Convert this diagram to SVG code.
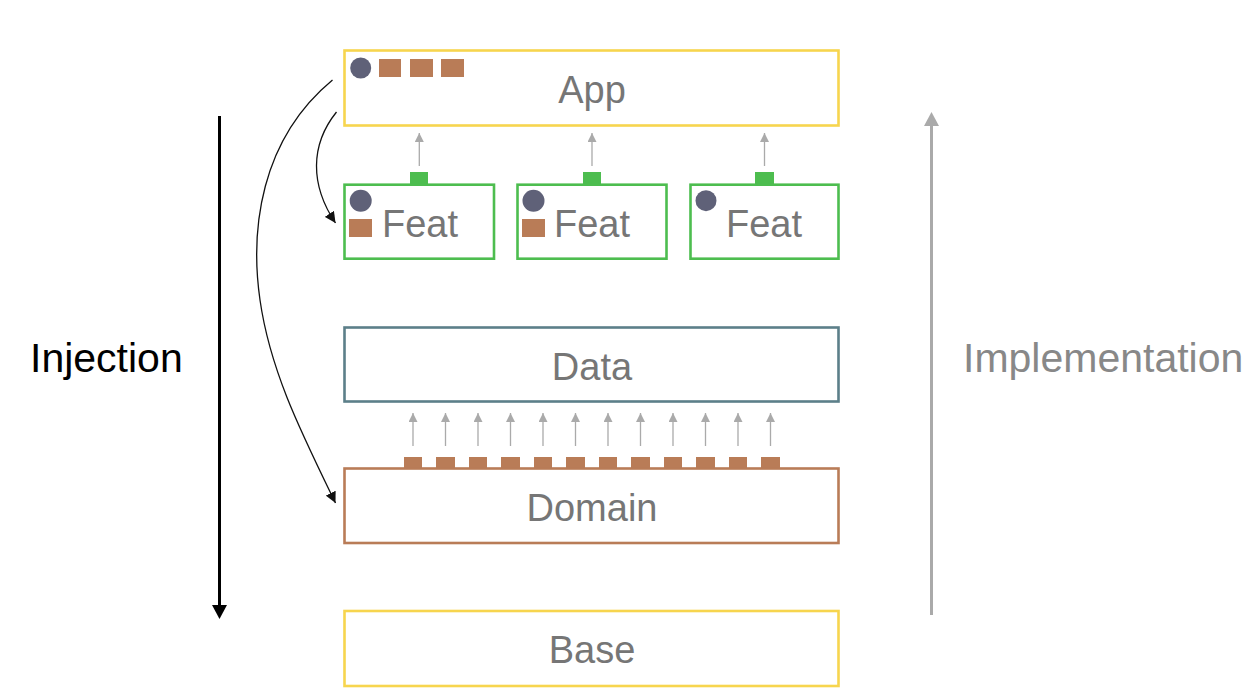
<svg xmlns="http://www.w3.org/2000/svg" width="1258" height="698" viewBox="0 0 1258 698">
  <defs>
    <style>
      .box { fill: #fff; stroke-width: 2.6; }
      .yellow { stroke: #F7D54E; }
      .green { stroke: #4DBD4F; }
      .teal { stroke: #5C7F89; }
      .brown { stroke: #B97C57; }
      .label { font-family: "Helvetica Neue", "Liberation Sans", Arial, sans-serif; font-size: 38px; fill: #767676; text-anchor: middle; }
      .side { font-family: "Helvetica Neue", "Liberation Sans", Arial, sans-serif; font-size: 41px; }
      .dot { fill: #5F6178; }
      .tab { fill: #B97C57; }
      .gtab { fill: #4DBD4F; }
      .thin { stroke: #AAAAAA; stroke-width: 1.3; fill: none; marker-end: url(#grayHead); }
      .curve { stroke: #111; stroke-width: 1.3; fill: none; marker-end: url(#blackHead); }
    </style>
    <marker id="grayHead" viewBox="0 0 10 10" refX="10" refY="5" markerWidth="9" markerHeight="9" markerUnits="userSpaceOnUse" orient="auto">
      <path d="M0,0 L10,5 L0,10 Z" fill="#AAAAAA"/>
    </marker>
    <marker id="blackHead" viewBox="0 0 10 10" refX="10" refY="5" markerWidth="11" markerHeight="11" markerUnits="userSpaceOnUse" orient="auto">
      <path d="M0,0 L10,5 L0,10 Z" fill="#111"/>
    </marker>
  </defs>

  <rect width="1258" height="698" fill="#fff"/>

  <!-- App layer -->
  <g id="app">
    <rect class="box yellow" x="344.5" y="50.5" width="494" height="75"/>
    <circle class="dot" cx="360.7" cy="68" r="10.5"/>
    <rect class="tab" x="379" y="59" width="22" height="18"/>
    <rect class="tab" x="410" y="59" width="23" height="18"/>
    <rect class="tab" x="441" y="59" width="23" height="18"/>
    <text class="label" x="592" y="103">App</text>
  </g>

  <!-- Feature modules -->
  <g id="feat1">
    <rect class="gtab" x="410" y="172" width="18" height="12"/>
    <rect class="box green" x="344.5" y="184.7" width="149.5" height="74"/>
    <circle class="dot" cx="360.7" cy="200.7" r="11"/>
    <rect class="tab" x="349" y="219" width="23" height="18"/>
    <text class="label" x="420" y="237">Feat</text>
  </g>
  <g id="feat2">
    <rect class="gtab" x="583" y="172" width="18" height="12"/>
    <rect class="box green" x="517.5" y="184.7" width="149" height="74"/>
    <circle class="dot" cx="533.5" cy="200.7" r="11"/>
    <rect class="tab" x="522" y="219" width="23" height="18"/>
    <text class="label" x="592" y="237">Feat</text>
  </g>
  <g id="feat3">
    <rect class="gtab" x="755" y="172" width="19" height="12"/>
    <rect class="box green" x="690.5" y="184.7" width="148" height="74"/>
    <circle class="dot" cx="706" cy="200.7" r="10.5"/>
    <text class="label" x="764" y="237">Feat</text>
  </g>

  <!-- Data layer -->
  <g id="data">
    <rect class="box teal" x="344.5" y="327.5" width="494" height="74"/>
    <text class="label" x="592" y="380">Data</text>
  </g>

  <!-- Domain layer with its exported interfaces -->
  <g id="domain">
    <g class="tab">
      <rect x="404" y="457" width="18" height="11"/>
      <rect x="436" y="457" width="19" height="11"/>
      <rect x="469" y="457" width="18" height="11"/>
      <rect x="501" y="457" width="19" height="11"/>
      <rect x="534" y="457" width="18" height="11"/>
      <rect x="566" y="457" width="19" height="11"/>
      <rect x="599" y="457" width="18" height="11"/>
      <rect x="631" y="457" width="19" height="11"/>
      <rect x="664" y="457" width="18" height="11"/>
      <rect x="696" y="457" width="19" height="11"/>
      <rect x="729" y="457" width="18" height="11"/>
      <rect x="761" y="457" width="19" height="11"/>
    </g>
    <rect class="box brown" x="344.5" y="468.5" width="494" height="74.5"/>
    <text class="label" x="592" y="521">Domain</text>
  </g>

  <!-- Base layer -->
  <g id="base">
    <rect class="box yellow" x="344.5" y="611" width="494" height="75"/>
    <text class="label" x="592" y="663">Base</text>
  </g>

  <!-- Side axes -->
  <g id="injection">
    <line x1="219.5" y1="116" x2="219.5" y2="606" stroke="#000" stroke-width="3"/>
    <path d="M212,605 L227,605 L219.5,619 Z" fill="#000"/>
    <text class="side" x="30" y="372" fill="#000">Injection</text>
  </g>
  <g id="implementation">
    <line x1="931.5" y1="615" x2="931.5" y2="125" stroke="#AAAAAA" stroke-width="3"/>
    <path d="M924,126 L939,126 L931.5,112 Z" fill="#AAAAAA"/>
    <text class="side" x="963" y="372" fill="#888888">Implementation</text>
  </g>

  <!-- Connectors -->
  <g id="connectors">
    <line class="thin" x1="419.3" y1="166" x2="419.3" y2="133"/>
    <line class="thin" x1="592" y1="166" x2="592" y2="133"/>
    <line class="thin" x1="764.5" y1="166" x2="764.5" y2="133"/>

    <line class="thin" x1="413" y1="446" x2="413" y2="413"/>
    <line class="thin" x1="445.5" y1="446" x2="445.5" y2="413"/>
    <line class="thin" x1="478" y1="446" x2="478" y2="413"/>
    <line class="thin" x1="510.5" y1="446" x2="510.5" y2="413"/>
    <line class="thin" x1="543" y1="446" x2="543" y2="413"/>
    <line class="thin" x1="575.5" y1="446" x2="575.5" y2="413"/>
    <line class="thin" x1="608" y1="446" x2="608" y2="413"/>
    <line class="thin" x1="640.5" y1="446" x2="640.5" y2="413"/>
    <line class="thin" x1="673" y1="446" x2="673" y2="413"/>
    <line class="thin" x1="705.5" y1="446" x2="705.5" y2="413"/>
    <line class="thin" x1="738" y1="446" x2="738" y2="413"/>
    <line class="thin" x1="770.5" y1="446" x2="770.5" y2="413"/>

    <path class="curve" d="M336.5,112 C310,145 310,185 335.5,223"/>
    <path class="curve" d="M332.5,80 C260,140 250,230 260,300 C270,370 300,430 335.5,503"/>
  </g>
</svg>
